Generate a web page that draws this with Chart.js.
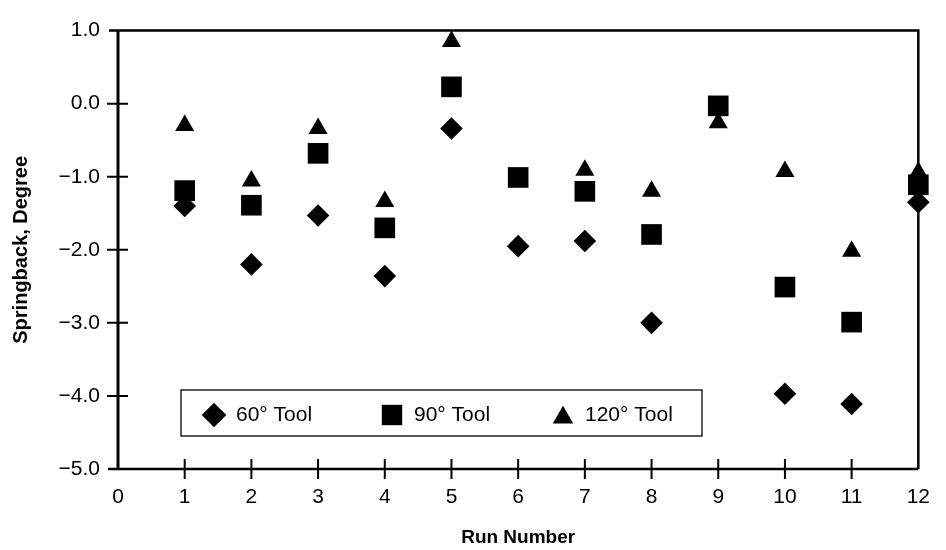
<!DOCTYPE html>
<html>
<head>
<meta charset="utf-8">
<script src="https://cdn.jsdelivr.net/npm/chart.js@4.4.1/dist/chart.umd.min.js"></script>
<style>
  html, body { margin: 0; padding: 0; background: #fff; }
</style>
</head>
<body>
<canvas id="chart" width="946" height="550"></canvas>
<script>
// run numbers and springback values (degrees)
const runs = [1, 2, 3, 4, 5, 6, 7, 8, 9, 10, 11, 12];
const tool60 = [-1.40, -2.20, -1.53, -2.36, -0.34, -1.95, -1.88, -3.00, null, -3.97, -4.11, -1.35];
const tool90 = [-1.19, -1.39, -0.68, -1.70, 0.23, -1.01, -1.20, -1.79, -0.03, -2.51, -2.99, -1.11];
const tool120 = [-0.30, -1.06, -0.34, -1.34, 0.85, null, -0.91, -1.20, -0.26, -0.93, -2.02, -0.94];
const seriesNames = ["60° Tool", "90° Tool", "120° Tool"];

const xTickValues = [0, 1, 2, 3, 4, 5, 6, 7, 8, 9, 10, 11, 12];
const yTickValues = [1, 0, -1, -2, -3, -4, -5];

const toPoints = (vals) => runs.map((r, i) => ({ x: r, y: vals[i] }));
const fmtY = (v) => (v < 0 ? "\u2212" : "") + Math.abs(v).toFixed(1);

Chart.defaults.font.family = "'Liberation Sans', Arial, sans-serif";
Chart.defaults.color = "#000";

// box, crossing tick marks and the boxed legend inside the plot
const framePlugin = {
  id: "frame",
  afterDraw(chart) {
    const { ctx, chartArea: a, scales } = chart;
    const x = scales.x, y = scales.y;
    ctx.save();
    ctx.strokeStyle = "#000";
    ctx.lineCap = "butt";

    ctx.lineWidth = 3;
    ctx.beginPath();
    ctx.moveTo(a.left, a.top);
    ctx.lineTo(a.left, a.bottom);
    ctx.stroke();

    ctx.lineWidth = 2.5;
    ctx.beginPath();
    ctx.moveTo(a.left - 9, a.top);
    ctx.lineTo(a.right, a.top);
    ctx.lineTo(a.right, a.bottom);
    ctx.moveTo(a.left - 10, a.bottom);
    ctx.lineTo(a.right, a.bottom);
    ctx.stroke();

    ctx.lineWidth = 2;
    ctx.beginPath();
    x.ticks.forEach((t) => {
      if (t.value <= x.min || t.value >= x.max) return;
      const px = x.getPixelForValue(t.value);
      ctx.moveTo(px, a.bottom - 10);
      ctx.lineTo(px, a.bottom + 10);
    });
    y.ticks.forEach((t) => {
      if (t.value <= y.min || t.value >= y.max) return;
      const py = y.getPixelForValue(t.value);
      ctx.moveTo(a.left - 11, py);
      ctx.lineTo(a.left + 10, py);
    });
    ctx.stroke();

    // legend box
    const bx = a.left + 63, bh = 46, by = a.bottom - 33 - bh, bw = 521;
    ctx.lineWidth = 1.3;
    ctx.strokeRect(bx, by, bw, bh);
    const slots = [33, 211, 382];
    const yShift = [2, 2, 4.5];
    ctx.font = "21px 'Liberation Sans', Arial, sans-serif";
    ctx.textBaseline = "middle";
    ctx.textAlign = "left";
    chart.data.datasets.forEach((ds, i) => {
      const cx = bx + slots[i];
      const cy = by + bh / 2;
      ctx.fillStyle = "#000";
      Chart.helpers.drawPoint(ctx, {
        pointStyle: ds.pointStyle,
        radius: ds.legendRadius,
        rotation: 0,
        borderWidth: 0
      }, cx, cy + yShift[i]);
      ctx.fillStyle = "#000";
      ctx.fillText(ds.label, cx + 22, cy + 2);
    });
    ctx.restore();
  }
};

const marker = (label, vals, style, radius, legendRadius) => ({
  label,
  data: toPoints(vals),
  pointStyle: style,
  pointRadius: radius,
  pointHoverRadius: radius,
  legendRadius,
  pointBackgroundColor: "#000",
  pointBorderColor: "#000",
  pointBorderWidth: 0,
  showLine: false,
  clip: false
});

new Chart(document.getElementById("chart"), {
  type: "scatter",
  data: {
    datasets: [
      marker(seriesNames[0], tool60, "rectRot", 11.3, 12.3),
      marker(seriesNames[1], tool90, "rect", 14.6, 14.4),
      marker(seriesNames[2], tool120, "triangle", 11, 11.8)
    ]
  },
  options: {
    responsive: false,
    animation: false,
    events: [],
    layout: { padding: { top: 19, right: 13, left: 0, bottom: 0 } },
    plugins: {
      legend: { display: false },
      tooltip: { enabled: false }
    },
    scales: {
      x: {
        type: "linear",
        min: 0,
        max: 12,
        afterFit: (s) => { s.height = 81; },
        afterBuildTicks: (s) => { s.ticks = xTickValues.map((v) => ({ value: v })); },
        grid: { display: false, drawTicks: false },
        border: { display: false },
        ticks: { padding: 16, font: { size: 21 }, maxRotation: 0, autoSkip: false },
        title: {
          display: true,
          text: "Run Number",
          font: { size: 19, weight: "bold" },
          padding: { top: 0, bottom: 1 }
        }
      },
      y: {
        min: -5,
        max: 1,
        afterFit: (s) => { s.width = 118; },
        afterBuildTicks: (s) => { s.ticks = yTickValues.map((v) => ({ value: v })); },
        grid: { display: false, drawTicks: false },
        border: { display: false },
        ticks: { padding: 18, font: { size: 21 }, callback: fmtY },
        title: {
          display: true,
          text: "Springback, Degree",
          font: { size: 20, weight: "bold" },
          padding: { top: 9, bottom: 0 }
        }
      }
    }
  },
  plugins: [framePlugin]
});
</script>
</body>
</html>
